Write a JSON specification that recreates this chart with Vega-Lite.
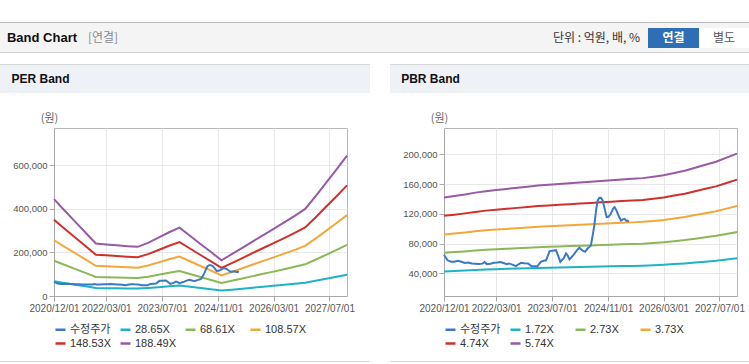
{
"$schema": "https://vega.github.io/schema/vega-lite/v6.json",
"padding": {"top": 22, "left": 0, "right": 0, "bottom": 0},
"background": "#ffffff",
"spacing": 0,
"resolve": {"scale": {"color": "independent"}, "legend": {"color": "independent"}},
"config": {
 "view": {"stroke": null},
 "concat": {"spacing": 0},
 "font": "Liberation Sans",
 "axis": {"labelFont": "Liberation Sans", "labelColor": "#555555", "domainColor": "#a8a8a8", "tickColor": "#a8a8a8", "gridColor": "#e8e8e8", "tickSize": 5, "labelPadding": 2},
 "axisX": {"labelFontSize": 10, "labelOverlap": false, "labelFlush": false, "grid": true},
 "axisY": {"labelFontSize": 9.5, "grid": true},
 "legend": {"orient": "bottom", "direction": "horizontal", "columns": 4, "symbolType": "stroke", "symbolSize": 100, "symbolStrokeWidth": 2.5, "labelFont": "Liberation Sans, Noto Sans CJK KR", "labelFontSize": 11, "labelColor": "#333333", "gridAlign": "all", "columnPadding": 4, "rowPadding": 2, "offset": 10, "padding": 0, "labelOffset": 3}
},
"datasets": {
 "price": [
  {"d":"2020/12/01","s":"수정주가","v":65000},{"d":"2021/01/01","s":"수정주가","v":57500},{"d":"2021/02/01","s":"수정주가","v":55500},{"d":"2021/03/01","s":"수정주가","v":55500},{"d":"2021/04/01","s":"수정주가","v":56800},{"d":"2021/05/01","s":"수정주가","v":55500},{"d":"2021/06/01","s":"수정주가","v":54000},{"d":"2021/07/01","s":"수정주가","v":54500},{"d":"2021/08/01","s":"수정주가","v":53300},{"d":"2021/09/01","s":"수정주가","v":53000},{"d":"2021/10/01","s":"수정주가","v":52400},{"d":"2021/11/01","s":"수정주가","v":53000},{"d":"2021/11/20","s":"수정주가","v":55100},{"d":"2021/12/10","s":"수정주가","v":52400},{"d":"2022/01/10","s":"수정주가","v":53000},{"d":"2022/02/10","s":"수정주가","v":54100},{"d":"2022/03/10","s":"수정주가","v":54500},{"d":"2022/04/10","s":"수정주가","v":55100},{"d":"2022/05/10","s":"수정주가","v":53500},{"d":"2022/06/01","s":"수정주가","v":52400},{"d":"2022/06/20","s":"수정주가","v":53300},{"d":"2022/07/15","s":"수정주가","v":52000},{"d":"2022/08/20","s":"수정주가","v":49700},{"d":"2022/09/15","s":"수정주가","v":52500},{"d":"2022/10/05","s":"수정주가","v":54100},{"d":"2022/11/01","s":"수정주가","v":53500},{"d":"2022/12/05","s":"수정주가","v":53300},{"d":"2023/01/01","s":"수정주가","v":49700},{"d":"2023/02/01","s":"수정주가","v":49500},{"d":"2023/02/25","s":"수정주가","v":49700},{"d":"2023/03/25","s":"수정주가","v":55500},{"d":"2023/04/20","s":"수정주가","v":56800},{"d":"2023/05/10","s":"수정주가","v":57500},{"d":"2023/06/10","s":"수정주가","v":69700},{"d":"2023/07/05","s":"수정주가","v":70500},{"d":"2023/08/05","s":"수정주가","v":71100},{"d":"2023/08/25","s":"수정주가","v":63000},{"d":"2023/09/12","s":"수정주가","v":55500},{"d":"2023/10/10","s":"수정주가","v":60000},{"d":"2023/11/01","s":"수정주가","v":66700},{"d":"2023/11/15","s":"수정주가","v":64000},{"d":"2023/12/01","s":"수정주가","v":58700},{"d":"2024/01/01","s":"수정주가","v":64000},{"d":"2024/02/01","s":"수정주가","v":70500},{"d":"2024/02/25","s":"수정주가","v":74500},{"d":"2024/03/25","s":"수정주가","v":70500},{"d":"2024/04/15","s":"수정주가","v":69000},{"d":"2024/05/05","s":"수정주가","v":73000},{"d":"2024/05/22","s":"수정주가","v":75500},{"d":"2024/06/05","s":"수정주가","v":78000},{"d":"2024/06/20","s":"수정주가","v":91000},{"d":"2024/07/05","s":"수정주가","v":105000},{"d":"2024/07/20","s":"수정주가","v":125000},{"d":"2024/08/01","s":"수정주가","v":137000},{"d":"2024/08/15","s":"수정주가","v":141300},{"d":"2024/09/01","s":"수정주가","v":141500},{"d":"2024/09/15","s":"수정주가","v":138000},{"d":"2024/10/01","s":"수정주가","v":128000},{"d":"2024/10/20","s":"수정주가","v":115500},{"d":"2024/11/05","s":"수정주가","v":116000},{"d":"2024/11/25","s":"수정주가","v":120000},{"d":"2024/12/15","s":"수정주가","v":127000},{"d":"2024/12/28","s":"수정주가","v":128900},{"d":"2025/01/15","s":"수정주가","v":124000},{"d":"2025/02/05","s":"수정주가","v":116000},{"d":"2025/02/22","s":"수정주가","v":111000},{"d":"2025/03/10","s":"수정주가","v":112500},{"d":"2025/03/25","s":"수정주가","v":113300},{"d":"2025/04/10","s":"수정주가","v":110500},{"d":"2025/04/20","s":"수정주가","v":111000},{"d":"2025/05/01","s":"수정주가","v":109500}
 ],
 "per": [
  {"d":"2020/12/01","s":"28.65X","v":67600},{"d":"2020/12/01","s":"68.61X","v":162000},{"d":"2020/12/01","s":"108.57X","v":256300},{"d":"2020/12/01","s":"148.53X","v":350700},{"d":"2020/12/01","s":"188.49X","v":445000},
  {"d":"2021/03/01","s":"28.65X","v":59900},{"d":"2021/03/01","s":"68.61X","v":143400},{"d":"2021/03/01","s":"108.57X","v":226900},{"d":"2021/03/01","s":"148.53X","v":310500},{"d":"2021/03/01","s":"188.49X","v":394000},
  {"d":"2021/06/01","s":"28.65X","v":52100},{"d":"2021/06/01","s":"68.61X","v":124900},{"d":"2021/06/01","s":"108.57X","v":197600},{"d":"2021/06/01","s":"148.53X","v":270300},{"d":"2021/06/01","s":"188.49X","v":343000},
  {"d":"2021/09/01","s":"28.65X","v":44400},{"d":"2021/09/01","s":"68.61X","v":106300},{"d":"2021/09/01","s":"108.57X","v":168200},{"d":"2021/09/01","s":"148.53X","v":230100},{"d":"2021/09/01","s":"188.49X","v":292000},
  {"d":"2021/12/01","s":"28.65X","v":36600},{"d":"2021/12/01","s":"68.61X","v":87700},{"d":"2021/12/01","s":"108.57X","v":138800},{"d":"2021/12/01","s":"148.53X","v":189900},{"d":"2021/12/01","s":"188.49X","v":241000},
  {"d":"2022/03/01","s":"28.65X","v":36000},{"d":"2022/03/01","s":"68.61X","v":86300},{"d":"2022/03/01","s":"108.57X","v":136500},{"d":"2022/03/01","s":"148.53X","v":186800},{"d":"2022/03/01","s":"188.49X","v":237000},
  {"d":"2022/06/01","s":"28.65X","v":35400},{"d":"2022/06/01","s":"68.61X","v":84800},{"d":"2022/06/01","s":"108.57X","v":134200},{"d":"2022/06/01","s":"148.53X","v":183600},{"d":"2022/06/01","s":"188.49X","v":233000},
  {"d":"2022/09/01","s":"28.65X","v":34800},{"d":"2022/09/01","s":"68.61X","v":83400},{"d":"2022/09/01","s":"108.57X","v":131900},{"d":"2022/09/01","s":"148.53X","v":180500},{"d":"2022/09/01","s":"188.49X","v":229000},
  {"d":"2022/12/01","s":"28.65X","v":34400},{"d":"2022/12/01","s":"68.61X","v":82300},{"d":"2022/12/01","s":"108.57X","v":130200},{"d":"2022/12/01","s":"148.53X","v":178100},{"d":"2022/12/01","s":"188.49X","v":226000},
  {"d":"2023/03/01","s":"28.65X","v":37100},{"d":"2023/03/01","s":"68.61X","v":88800},{"d":"2023/03/01","s":"108.57X","v":140500},{"d":"2023/03/01","s":"148.53X","v":192300},{"d":"2023/03/01","s":"188.49X","v":244000},
  {"d":"2023/06/01","s":"28.65X","v":40700},{"d":"2023/06/01","s":"68.61X","v":97600},{"d":"2023/06/01","s":"108.57X","v":154400},{"d":"2023/06/01","s":"148.53X","v":211200},{"d":"2023/06/01","s":"188.49X","v":268000},
  {"d":"2023/09/01","s":"28.65X","v":44500},{"d":"2023/09/01","s":"68.61X","v":106700},{"d":"2023/09/01","s":"108.57X","v":168800},{"d":"2023/09/01","s":"148.53X","v":230900},{"d":"2023/09/01","s":"188.49X","v":293000},
  {"d":"2023/12/01","s":"28.65X","v":47700},{"d":"2023/12/01","s":"68.61X","v":114300},{"d":"2023/12/01","s":"108.57X","v":180900},{"d":"2023/12/01","s":"148.53X","v":247400},{"d":"2023/12/01","s":"188.49X","v":314000},
  {"d":"2024/03/01","s":"28.65X","v":42100},{"d":"2024/03/01","s":"68.61X","v":100800},{"d":"2024/03/01","s":"108.57X","v":159600},{"d":"2024/03/01","s":"148.53X","v":218300},{"d":"2024/03/01","s":"188.49X","v":277000},
  {"d":"2024/06/01","s":"28.65X","v":36300},{"d":"2024/06/01","s":"68.61X","v":87000},{"d":"2024/06/01","s":"108.57X","v":137700},{"d":"2024/06/01","s":"148.53X","v":188300},{"d":"2024/06/01","s":"188.49X","v":239000},
  {"d":"2024/09/01","s":"28.65X","v":30700},{"d":"2024/09/01","s":"68.61X","v":73500},{"d":"2024/09/01","s":"108.57X","v":116400},{"d":"2024/09/01","s":"148.53X","v":159200},{"d":"2024/09/01","s":"188.49X","v":202000},
  {"d":"2024/12/01","s":"28.65X","v":24900},{"d":"2024/12/01","s":"68.61X","v":59700},{"d":"2024/12/01","s":"108.57X","v":94500},{"d":"2024/12/01","s":"148.53X","v":129200},{"d":"2024/12/01","s":"188.49X","v":164000},
  {"d":"2025/03/01","s":"28.65X","v":29200},{"d":"2025/03/01","s":"68.61X","v":69900},{"d":"2025/03/01","s":"108.57X","v":110600},{"d":"2025/03/01","s":"148.53X","v":151300},{"d":"2025/03/01","s":"188.49X","v":192000},
  {"d":"2025/06/01","s":"28.65X","v":33600},{"d":"2025/06/01","s":"68.61X","v":80400},{"d":"2025/06/01","s":"108.57X","v":127300},{"d":"2025/06/01","s":"148.53X","v":174100},{"d":"2025/06/01","s":"188.49X","v":221000},
  {"d":"2025/09/01","s":"28.65X","v":38200},{"d":"2025/09/01","s":"68.61X","v":91400},{"d":"2025/09/01","s":"108.57X","v":144600},{"d":"2025/09/01","s":"148.53X","v":197800},{"d":"2025/09/01","s":"188.49X","v":251000},
  {"d":"2025/12/01","s":"28.65X","v":42600},{"d":"2025/12/01","s":"68.61X","v":101900},{"d":"2025/12/01","s":"108.57X","v":161300},{"d":"2025/12/01","s":"148.53X","v":220600},{"d":"2025/12/01","s":"188.49X","v":280000},
  {"d":"2026/03/01","s":"28.65X","v":46800},{"d":"2026/03/01","s":"68.61X","v":112100},{"d":"2026/03/01","s":"108.57X","v":177400},{"d":"2026/03/01","s":"148.53X","v":242700},{"d":"2026/03/01","s":"188.49X","v":308000},
  {"d":"2026/06/01","s":"28.65X","v":51400},{"d":"2026/06/01","s":"68.61X","v":123000},{"d":"2026/06/01","s":"108.57X","v":194700},{"d":"2026/06/01","s":"148.53X","v":266300},{"d":"2026/06/01","s":"188.49X","v":338000},
  {"d":"2026/09/01","s":"28.65X","v":55900},{"d":"2026/09/01","s":"68.61X","v":134000},{"d":"2026/09/01","s":"108.57X","v":212000},{"d":"2026/09/01","s":"148.53X","v":290000},{"d":"2026/09/01","s":"188.49X","v":368000},
  {"d":"2026/12/01","s":"28.65X","v":60800},{"d":"2026/12/01","s":"68.61X","v":145600},{"d":"2026/12/01","s":"108.57X","v":230400},{"d":"2026/12/01","s":"148.53X","v":315200},{"d":"2026/12/01","s":"188.49X","v":400000},
  {"d":"2027/03/01","s":"28.65X","v":69600},{"d":"2027/03/01","s":"68.61X","v":166700},{"d":"2027/03/01","s":"108.57X","v":263800},{"d":"2027/03/01","s":"148.53X","v":360900},{"d":"2027/03/01","s":"188.49X","v":458000},
  {"d":"2027/06/01","s":"28.65X","v":79000},{"d":"2027/06/01","s":"68.61X","v":189300},{"d":"2027/06/01","s":"108.57X","v":299500},{"d":"2027/06/01","s":"148.53X","v":409800},{"d":"2027/06/01","s":"188.49X","v":520000},
  {"d":"2027/09/01","s":"28.65X","v":88500},{"d":"2027/09/01","s":"68.61X","v":211800},{"d":"2027/09/01","s":"108.57X","v":335200},{"d":"2027/09/01","s":"148.53X","v":458600},{"d":"2027/09/01","s":"188.49X","v":582000},
  {"d":"2027/12/01","s":"28.65X","v":98000},{"d":"2027/12/01","s":"68.61X","v":234800},{"d":"2027/12/01","s":"108.57X","v":371500},{"d":"2027/12/01","s":"148.53X","v":508300},{"d":"2027/12/01","s":"188.49X","v":645000}
 ],
 "pbr": [
  {"d":"2020/12/01","s":"1.72X","v":42600},{"d":"2020/12/01","s":"2.73X","v":67500},{"d":"2020/12/01","s":"3.73X","v":92300},{"d":"2020/12/01","s":"4.74X","v":117300},{"d":"2020/12/01","s":"5.74X","v":142000},
  {"d":"2021/03/01","s":"1.72X","v":43100},{"d":"2021/03/01","s":"2.73X","v":68500},{"d":"2021/03/01","s":"3.73X","v":93600},{"d":"2021/03/01","s":"4.74X","v":118900},{"d":"2021/03/01","s":"5.74X","v":144000},
  {"d":"2021/06/01","s":"1.72X","v":43700},{"d":"2021/06/01","s":"2.73X","v":69400},{"d":"2021/06/01","s":"3.73X","v":94900},{"d":"2021/06/01","s":"4.74X","v":120600},{"d":"2021/06/01","s":"5.74X","v":146000},
  {"d":"2021/09/01","s":"1.72X","v":44500},{"d":"2021/09/01","s":"2.73X","v":70600},{"d":"2021/09/01","s":"3.73X","v":96500},{"d":"2021/09/01","s":"4.74X","v":122600},{"d":"2021/09/01","s":"5.74X","v":148500},
  {"d":"2021/12/01","s":"1.72X","v":45100},{"d":"2021/12/01","s":"2.73X","v":71600},{"d":"2021/12/01","s":"3.73X","v":97800},{"d":"2021/12/01","s":"4.74X","v":124300},{"d":"2021/12/01","s":"5.74X","v":150500},
  {"d":"2022/03/01","s":"1.72X","v":45500},{"d":"2022/03/01","s":"2.73X","v":72300},{"d":"2022/03/01","s":"3.73X","v":98800},{"d":"2022/03/01","s":"4.74X","v":125500},{"d":"2022/03/01","s":"5.74X","v":152000},
  {"d":"2022/06/01","s":"1.72X","v":46000},{"d":"2022/06/01","s":"2.73X","v":73000},{"d":"2022/06/01","s":"3.73X","v":99700},{"d":"2022/06/01","s":"4.74X","v":126800},{"d":"2022/06/01","s":"5.74X","v":153500},
  {"d":"2022/09/01","s":"1.72X","v":46400},{"d":"2022/09/01","s":"2.73X","v":73700},{"d":"2022/09/01","s":"3.73X","v":100700},{"d":"2022/09/01","s":"4.74X","v":128000},{"d":"2022/09/01","s":"5.74X","v":155000},
  {"d":"2022/12/01","s":"1.72X","v":46900},{"d":"2022/12/01","s":"2.73X","v":74400},{"d":"2022/12/01","s":"3.73X","v":101700},{"d":"2022/12/01","s":"4.74X","v":129200},{"d":"2022/12/01","s":"5.74X","v":156500},
  {"d":"2023/03/01","s":"1.72X","v":47300},{"d":"2023/03/01","s":"2.73X","v":75100},{"d":"2023/03/01","s":"3.73X","v":102700},{"d":"2023/03/01","s":"4.74X","v":130500},{"d":"2023/03/01","s":"5.74X","v":158000},
  {"d":"2023/06/01","s":"1.72X","v":47600},{"d":"2023/06/01","s":"2.73X","v":75600},{"d":"2023/06/01","s":"3.73X","v":103300},{"d":"2023/06/01","s":"4.74X","v":131300},{"d":"2023/06/01","s":"5.74X","v":159000},
  {"d":"2023/09/01","s":"1.72X","v":47900},{"d":"2023/09/01","s":"2.73X","v":76100},{"d":"2023/09/01","s":"3.73X","v":104000},{"d":"2023/09/01","s":"4.74X","v":132100},{"d":"2023/09/01","s":"5.74X","v":160000},
  {"d":"2023/12/01","s":"1.72X","v":48200},{"d":"2023/12/01","s":"2.73X","v":76600},{"d":"2023/12/01","s":"3.73X","v":104600},{"d":"2023/12/01","s":"4.74X","v":133000},{"d":"2023/12/01","s":"5.74X","v":161000},
  {"d":"2024/03/01","s":"1.72X","v":48500},{"d":"2024/03/01","s":"2.73X","v":77000},{"d":"2024/03/01","s":"3.73X","v":105300},{"d":"2024/03/01","s":"4.74X","v":133800},{"d":"2024/03/01","s":"5.74X","v":162000},
  {"d":"2024/06/01","s":"1.72X","v":48800},{"d":"2024/06/01","s":"2.73X","v":77500},{"d":"2024/06/01","s":"3.73X","v":105900},{"d":"2024/06/01","s":"4.74X","v":134600},{"d":"2024/06/01","s":"5.74X","v":163000},
  {"d":"2024/09/01","s":"1.72X","v":49100},{"d":"2024/09/01","s":"2.73X","v":78000},{"d":"2024/09/01","s":"3.73X","v":106600},{"d":"2024/09/01","s":"4.74X","v":135400},{"d":"2024/09/01","s":"5.74X","v":164000},
  {"d":"2024/12/01","s":"1.72X","v":49400},{"d":"2024/12/01","s":"2.73X","v":78500},{"d":"2024/12/01","s":"3.73X","v":107200},{"d":"2024/12/01","s":"4.74X","v":136300},{"d":"2024/12/01","s":"5.74X","v":165000},
  {"d":"2025/03/01","s":"1.72X","v":49700},{"d":"2025/03/01","s":"2.73X","v":79000},{"d":"2025/03/01","s":"3.73X","v":107900},{"d":"2025/03/01","s":"4.74X","v":137100},{"d":"2025/03/01","s":"5.74X","v":166000},
  {"d":"2025/06/01","s":"1.72X","v":50000},{"d":"2025/06/01","s":"2.73X","v":79400},{"d":"2025/06/01","s":"3.73X","v":108500},{"d":"2025/06/01","s":"4.74X","v":137900},{"d":"2025/06/01","s":"5.74X","v":167000},
  {"d":"2025/09/01","s":"1.72X","v":50300},{"d":"2025/09/01","s":"2.73X","v":79900},{"d":"2025/09/01","s":"3.73X","v":109200},{"d":"2025/09/01","s":"4.74X","v":138700},{"d":"2025/09/01","s":"5.74X","v":168000},
  {"d":"2025/12/01","s":"1.72X","v":50900},{"d":"2025/12/01","s":"2.73X","v":80900},{"d":"2025/12/01","s":"3.73X","v":110500},{"d":"2025/12/01","s":"4.74X","v":140400},{"d":"2025/12/01","s":"5.74X","v":170000},
  {"d":"2026/03/01","s":"1.72X","v":51500},{"d":"2026/03/01","s":"2.73X","v":81800},{"d":"2026/03/01","s":"3.73X","v":111800},{"d":"2026/03/01","s":"4.74X","v":142000},{"d":"2026/03/01","s":"5.74X","v":172000},
  {"d":"2026/06/01","s":"1.72X","v":52400},{"d":"2026/06/01","s":"2.73X","v":83200},{"d":"2026/06/01","s":"3.73X","v":113700},{"d":"2026/06/01","s":"4.74X","v":144500},{"d":"2026/06/01","s":"5.74X","v":175000},
  {"d":"2026/09/01","s":"1.72X","v":53300},{"d":"2026/09/01","s":"2.73X","v":84700},{"d":"2026/09/01","s":"3.73X","v":115700},{"d":"2026/09/01","s":"4.74X","v":147000},{"d":"2026/09/01","s":"5.74X","v":178000},
  {"d":"2026/12/01","s":"1.72X","v":54500},{"d":"2026/12/01","s":"2.73X","v":86600},{"d":"2026/12/01","s":"3.73X","v":118300},{"d":"2026/12/01","s":"4.74X","v":150300},{"d":"2026/12/01","s":"5.74X","v":182000},
  {"d":"2027/03/01","s":"1.72X","v":55700},{"d":"2027/03/01","s":"2.73X","v":88500},{"d":"2027/03/01","s":"3.73X","v":120900},{"d":"2027/03/01","s":"4.74X","v":153600},{"d":"2027/03/01","s":"5.74X","v":186000},
  {"d":"2027/06/01","s":"1.72X","v":56900},{"d":"2027/06/01","s":"2.73X","v":90400},{"d":"2027/06/01","s":"3.73X","v":123500},{"d":"2027/06/01","s":"4.74X","v":156900},{"d":"2027/06/01","s":"5.74X","v":190000},
  {"d":"2027/09/01","s":"1.72X","v":58600},{"d":"2027/09/01","s":"2.73X","v":93000},{"d":"2027/09/01","s":"3.73X","v":127000},{"d":"2027/09/01","s":"4.74X","v":161400},{"d":"2027/09/01","s":"5.74X","v":195500},
  {"d":"2027/12/01","s":"1.72X","v":60200},{"d":"2027/12/01","s":"2.73X","v":95600},{"d":"2027/12/01","s":"3.73X","v":130600},{"d":"2027/12/01","s":"4.74X","v":166000},{"d":"2027/12/01","s":"5.74X","v":201000}
 ]
},
"vconcat": [
 {"width": 749, "height": 1, "data": {"values": []}, "mark": "point", "view": {"fill": "#bdbdbd", "stroke": null}},
 {"hconcat": [
   {"width": 84, "height": 29, "data": {"values": [{"t": "Band Chart"}]}, "mark": {"type": "text", "font": "Liberation Sans", "fontSize": 13, "fontWeight": "bold", "color": "#111111"}, "encoding": {"text": {"field": "t"}}, "view": {"fill": "#f4f4f4", "stroke": null}},
   {"width": 38, "height": 29, "data": {"values": [{"t": "[연결]"}]}, "mark": {"type": "text", "font": "Noto Sans CJK KR", "fontSize": 12, "color": "#8a8a8a"}, "encoding": {"text": {"field": "t"}}, "view": {"fill": "#f4f4f4", "stroke": null}},
   {"width": 430, "height": 29, "data": {"values": []}, "mark": "point", "view": {"fill": "#f4f4f4", "stroke": null}},
   {"width": 89, "height": 29, "data": {"values": [{"t": "단위 : 억원, 배, %"}]}, "mark": {"type": "text", "font": "Noto Sans CJK KR", "fontSize": 12, "color": "#333333"}, "encoding": {"text": {"field": "t"}}, "view": {"fill": "#f4f4f4", "stroke": null}},
   {"width": 7, "height": 29, "data": {"values": []}, "mark": "point", "view": {"fill": "#f4f4f4", "stroke": null}},
   {"vconcat": [
     {"width": 101, "height": 5, "data": {"values": []}, "mark": "point", "view": {"fill": "#f4f4f4", "stroke": null}},
     {"hconcat": [
       {"width": 51, "height": 20, "data": {"values": [{"t": "연결"}]}, "mark": {"type": "text", "font": "Noto Sans CJK KR", "fontSize": 12, "fontWeight": "bold", "color": "#ffffff"}, "encoding": {"text": {"field": "t"}}, "view": {"fill": "#2f6db5", "stroke": null}},
       {"width": 50, "height": 20, "data": {"values": [{"t": "별도"}]}, "mark": {"type": "text", "font": "Noto Sans CJK KR", "fontSize": 12, "color": "#555555"}, "encoding": {"text": {"field": "t"}}, "view": {"fill": "#ffffff", "stroke": null}}
     ], "spacing": 0},
     {"width": 101, "height": 4, "data": {"values": []}, "mark": "point", "view": {"fill": "#f4f4f4", "stroke": null}}
   ], "spacing": 0}
 ], "spacing": 0},
 {"width": 749, "height": 1, "data": {"values": []}, "mark": "point", "view": {"fill": "#cfcfcf", "stroke": null}},
 {"width": 749, "height": 11, "data": {"values": []}, "mark": "point"},
 {"hconcat": [
   {"vconcat": [
     {"width": 370, "height": 1, "data": {"values": []}, "mark": "point", "view": {"fill": "#d6d6d6", "stroke": null}},
     {"hconcat": [
       {"width": 81, "height": 28, "data": {"values": [{"t": "PER Band"}]}, "mark": {"type": "text", "font": "Liberation Sans", "fontSize": 12, "fontWeight": "bold", "color": "#111111"}, "encoding": {"text": {"field": "t"}}, "view": {"fill": "#eef2f7", "stroke": null}},
       {"width": 289, "height": 28, "data": {"values": []}, "mark": "point", "view": {"fill": "#eef2f7", "stroke": null}}
     ], "spacing": 0},
     {"width": 370, "height": 18, "data": {"values": []}, "mark": "point"},
     {"hconcat": [
       {"width": 54, "height": 168, "data": {"values": []}, "mark": "point"},
       {"width": 293, "height": 168,
        "view": {"stroke": "#b8b8b8", "fill": "#ffffff"},
        "encoding": {
          "x": {"field": "d", "type": "temporal", "scale": {"domain": [{"year": 2020, "month": 12, "date": 1}, {"year": 2027, "month": 12, "date": 1}]},
                "axis": {"title": null, "format": "%Y/%m/%d", "values": [{"year": 2020, "month": 12, "date": 1}, {"year": 2022, "month": 3, "date": 1}, {"year": 2023, "month": 7, "date": 1}, {"year": 2024, "month": 11, "date": 1}, {"year": 2026, "month": 3, "date": 1}, {"year": 2027, "month": 7, "date": 1}]}},
          "y": {"field": "v", "type": "quantitative", "scale": {"domain": [0, 772000], "nice": false, "zero": false},
                "axis": {"values": [0, 200000, 400000, 600000], "format": ",.0f", "title": "(원)", "titleAngle": 0, "titleX": -5, "titleY": -10, "titleAlign": "center", "titleBaseline": "middle", "titleFont": "Noto Sans CJK KR", "titleFontSize": 11, "titleFontWeight": "normal", "titleColor": "#666666"}},
          "color": {"field": "s", "type": "nominal", "scale": {"domain": ["수정주가", "28.65X", "68.61X", "108.57X", "148.53X", "188.49X"], "range": ["#3b78c6", "#1fb2c5", "#8ab857", "#f2a73b", "#cf302c", "#975aa4"]}, "legend": {"title": null}}
        },
        "layer": [
          {"data": {"name": "per"}, "mark": {"type": "line", "strokeWidth": 2}},
          {"data": {"name": "price"}, "mark": {"type": "line", "strokeWidth": 2}}
        ]
       },
       {"width": 23, "height": 168, "data": {"values": []}, "mark": "point"}
     ], "spacing": 0, "bounds": "flush", "resolve": {"scale": {"color": "independent"}, "legend": {"color": "independent"}}},
     {"width": 370, "height": 11, "data": {"values": []}, "mark": "point"},
     {"width": 370, "height": 1, "data": {"values": []}, "mark": "point", "view": {"fill": "#d6d6d6", "stroke": null}}
   ], "spacing": 0, "resolve": {"scale": {"color": "independent"}, "legend": {"color": "independent"}}},
   {"width": 20, "height": 1, "data": {"values": []}, "mark": "point"},
   {"vconcat": [
     {"width": 359, "height": 1, "data": {"values": []}, "mark": "point", "view": {"fill": "#d6d6d6", "stroke": null}},
     {"hconcat": [
       {"width": 81, "height": 28, "data": {"values": [{"t": "PBR Band"}]}, "mark": {"type": "text", "font": "Liberation Sans", "fontSize": 12, "fontWeight": "bold", "color": "#111111"}, "encoding": {"text": {"field": "t"}}, "view": {"fill": "#eef2f7", "stroke": null}},
       {"width": 278, "height": 28, "data": {"values": []}, "mark": "point", "view": {"fill": "#eef2f7", "stroke": null}}
     ], "spacing": 0},
     {"width": 359, "height": 18, "data": {"values": []}, "mark": "point"},
     {"hconcat": [
       {"width": 54, "height": 168, "data": {"values": []}, "mark": "point"},
       {"width": 293, "height": 168,
        "view": {"stroke": "#b8b8b8", "fill": "#ffffff"},
        "encoding": {
          "x": {"field": "d", "type": "temporal", "scale": {"domain": [{"year": 2020, "month": 12, "date": 1}, {"year": 2027, "month": 12, "date": 1}]},
                "axis": {"title": null, "format": "%Y/%m/%d", "values": [{"year": 2020, "month": 12, "date": 1}, {"year": 2022, "month": 3, "date": 1}, {"year": 2023, "month": 7, "date": 1}, {"year": 2024, "month": 11, "date": 1}, {"year": 2026, "month": 3, "date": 1}, {"year": 2027, "month": 7, "date": 1}]}},
          "y": {"field": "v", "type": "quantitative", "scale": {"domain": [9500, 235400], "nice": false, "zero": false},
                "axis": {"values": [40000, 80000, 120000, 160000, 200000], "format": ",.0f", "title": "(원)", "titleAngle": 0, "titleX": -5, "titleY": -10, "titleAlign": "center", "titleBaseline": "middle", "titleFont": "Noto Sans CJK KR", "titleFontSize": 11, "titleFontWeight": "normal", "titleColor": "#666666"}},
          "color": {"field": "s", "type": "nominal", "scale": {"domain": ["수정주가", "1.72X", "2.73X", "3.73X", "4.74X", "5.74X"], "range": ["#3b78c6", "#1fb2c5", "#8ab857", "#f2a73b", "#cf302c", "#975aa4"]}, "legend": {"title": null}}
        },
        "layer": [
          {"data": {"name": "pbr"}, "mark": {"type": "line", "strokeWidth": 2}},
          {"data": {"name": "price"}, "mark": {"type": "line", "strokeWidth": 2}}
        ]
       },
       {"width": 12, "height": 168, "data": {"values": []}, "mark": "point"}
     ], "spacing": 0, "bounds": "flush", "resolve": {"scale": {"color": "independent"}, "legend": {"color": "independent"}}},
     {"width": 359, "height": 11, "data": {"values": []}, "mark": "point"},
     {"width": 359, "height": 1, "data": {"values": []}, "mark": "point", "view": {"fill": "#d6d6d6", "stroke": null}}
   ], "spacing": 0, "resolve": {"scale": {"color": "independent"}, "legend": {"color": "independent"}}}
 ], "spacing": 0, "resolve": {"scale": {"color": "independent"}, "legend": {"color": "independent"}}}
]
}
